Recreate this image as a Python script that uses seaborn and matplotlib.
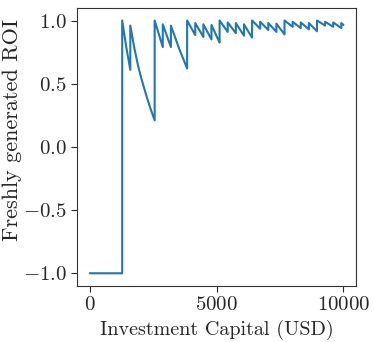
import matplotlib
matplotlib.use("Agg")
import matplotlib.pyplot as plt
import numpy as np
import pandas as pd
import seaborn as sns
from matplotlib.ticker import FuncFormatter

# vertices of the ROI curve (jumps = repeated x)
capital = [0, 1280, 1280, 1440, 1600, 1600, 1760, 1920, 2080, 2240, 2400, 2560,
           2560, 2880, 2880, 3200, 3200, 3520, 3840,
           3840, 4160, 4160, 4480, 4480, 4800, 4800, 5120,
           5120, 5440, 5440, 5760, 5760, 6080, 6080, 6400,
           6400, 6720, 6720, 7040, 7040, 7360, 7360, 7680,
           7680, 8000, 8000, 8320, 8320, 8640, 8640, 8960,
           8960, 9280, 9280, 9600, 9600, 9920, 9920, 10000]
roi = [-1.0, -1.0, 1.0, 0.79, 0.61, 0.96, 0.78, 0.63, 0.51, 0.40, 0.30, 0.21,
       1.0, 0.79, 0.97, 0.79, 0.96, 0.78, 0.62,
       1.0, 0.885, 0.98, 0.87, 0.97, 0.85, 0.965, 0.825,
       1.0, 0.91, 0.985, 0.90, 0.98, 0.88, 0.97, 0.865,
       1.0, 0.935, 0.99, 0.925, 0.98, 0.91, 0.975, 0.89,
       1.0, 0.95, 0.99, 0.94, 0.985, 0.93, 0.98, 0.915,
       1.0, 0.96, 0.99, 0.95, 0.985, 0.94, 0.98, 0.965]

x_ticks = [0, 5000, 10000]
y_ticks = [-1.0, -0.5, 0.0, 0.5, 1.0]

sns.set_style("ticks")
plt.rcParams["font.family"] = "serif"
plt.rcParams["font.serif"] = ["cmr10"]
plt.rcParams["mathtext.fontset"] = "cm"
plt.rcParams["axes.formatter.use_mathtext"] = True

df = pd.DataFrame({"capital": capital, "roi": roi})

fig = plt.figure(figsize=(3.74, 3.42), dpi=100)
ax = fig.add_axes([0.206, 0.164, 0.746, 0.813])

sns.lineplot(data=df, x="capital", y="roi", sort=False, estimator=None,
             color="#1f77b4", linewidth=1.5, ax=ax)

ax.set_xticks(x_ticks)
ax.set_yticks(y_ticks)
ax.xaxis.set_major_formatter(FuncFormatter(lambda v, p: f"${v:.0f}$"))
ax.yaxis.set_major_formatter(FuncFormatter(lambda v, p: f"${v:.1f}$"))
ax.tick_params(labelsize=15, length=4, color="0.15")
ax.set_xlabel("Investment Capital (USD)", fontsize=14.5)
ax.set_ylabel("Freshly generated ROI", fontsize=16)
ax.yaxis.set_label_coords(-0.197, 0.56)
for s in ax.spines.values():
    s.set_color("0.2")

fig.savefig("out.png", dpi=100)
plt.close(fig)
